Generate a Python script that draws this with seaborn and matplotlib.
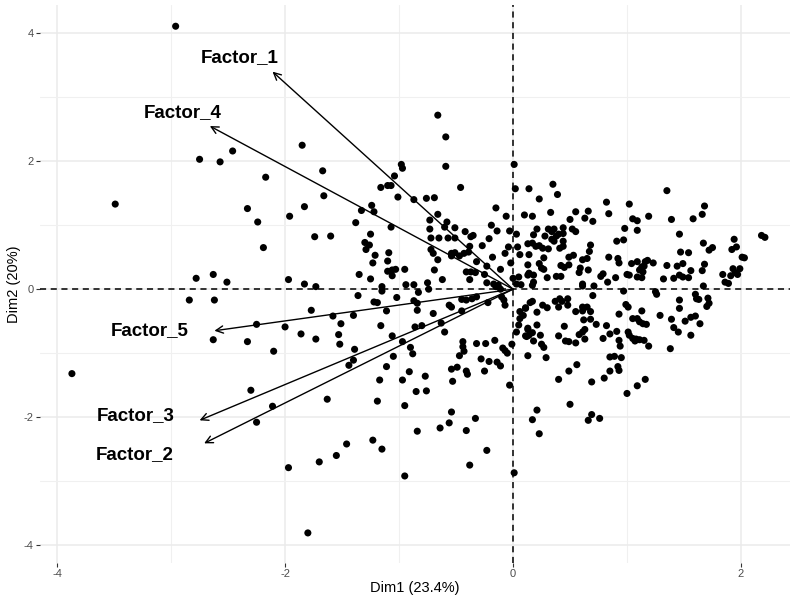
import pandas as pd
import matplotlib
matplotlib.use("Agg")
import matplotlib.pyplot as plt
import seaborn as sns

# individuals (Dim1, Dim2)
far_left = [(-2.96, 4.11), (-2.75, 2.03), (-2.57, 1.99), (-2.46, 2.16), (-2.17, 1.75),
             (-3.49, 1.33), (-2.33, 1.26), (-2.24, 1.05), (-1.96, 1.14), (-2.19, 0.65),
             (-2.78, 0.17), (-2.63, 0.23), (-2.51, 0.11), (-1.97, 0.15), (-2.84, -0.17),
             (-2.62, -0.17), (-2.25, -0.55), (-2.00, -0.59), (-2.63, -0.79), (-2.33, -0.82),
             (-2.10, -0.97), (-3.87, -1.32), (-2.30, -1.58), (-2.11, -1.83), (-2.25, -2.08),
             (-1.97, -2.79)]

left_top = [(-1.85, 2.25), (-1.67, 1.85), (-0.98, 1.95), (-0.97, 1.89), (-1.04, 1.77),
            (-1.16, 1.59), (-1.10, 1.62), (-1.07, 1.62), (-1.66, 1.46), (-1.01, 1.44),
            (-0.87, 1.40), (-1.83, 1.29), (-1.24, 1.31), (-1.33, 1.23), (-1.22, 1.21),
            (-1.38, 1.04), (-1.07, 0.97), (-1.74, 0.82), (-1.60, 0.83), (-1.25, 0.86),
            (-1.30, 0.73), (-1.26, 0.69), (-1.29, 0.62), (-1.21, 0.53), (-1.09, 0.57),
            (-1.23, 0.41), (-1.10, 0.44), (-1.10, 0.28), (-1.06, 0.30), (-1.03, 0.31),
            (-1.06, 0.21), (-0.95, 0.31), (-1.35, 0.23), (-1.25, 0.16), (-1.83, 0.08),
            (-1.73, 0.04), (-1.15, 0.04), (-0.94, 0.07), (-0.87, 0.07)]

left_bottom = [(-1.15, -0.03), (-1.36, -0.10), (-1.22, -0.20), (-1.19, -0.21), (-1.02, -0.13),
               (-1.77, -0.33), (-1.11, -0.34), (-1.58, -0.42), (-1.40, -0.41), (-1.51, -0.54),
               (-1.16, -0.57), (-1.86, -0.70), (-1.73, -0.78), (-1.53, -0.71), (-1.52, -0.86),
               (-1.06, -0.73), (-0.86, -0.59), (-0.97, -0.82), (-0.90, -0.91), (-0.88, -1.01),
               (-1.39, -0.94), (-1.40, -1.11), (-1.44, -1.19), (-1.05, -1.05), (-1.11, -1.21),
               (-0.91, -1.29), (-1.17, -1.42), (-0.97, -1.42), (-0.85, -1.60), (-1.63, -1.72),
               (-1.19, -1.75), (-0.95, -1.82), (-0.84, -2.22), (-1.23, -2.36), (-1.15, -2.50),
               (-1.46, -2.42), (-1.55, -2.60), (-1.70, -2.70), (-0.95, -2.92), (-1.80, -3.81)]

mid_top = [(-0.66, 2.72), (-0.59, 2.38), (-0.59, 1.92), (0.01, 1.95), (0.02, 1.57),
           (0.14, 1.57), (-0.46, 1.59), (-0.76, 1.42), (-0.69, 1.43), (-0.15, 1.27),
           (-0.06, 1.14), (0.10, 1.16), (-0.66, 1.17), (-0.73, 1.08), (-0.58, 1.05),
           (-0.60, 0.97), (-0.51, 0.96), (-0.73, 0.94), (-0.19, 1.00), (-0.14, 0.91),
           (-0.42, 0.90), (-0.03, 0.91), (-0.65, 0.80), (-0.72, 0.80), (-0.57, 0.80),
           (-0.51, 0.80), (-0.37, 0.82), (-0.35, 0.84), (-0.21, 0.79), (0.03, 0.86),
           (-0.38, 0.67), (-0.27, 0.68), (-0.04, 0.66), (0.04, 0.66), (-0.72, 0.62),
           (-0.70, 0.56), (-0.54, 0.56), (-0.51, 0.57), (-0.43, 0.56), (-0.39, 0.58),
           (-0.07, 0.56), (0.06, 0.54), (0.13, 0.71), (-0.54, 0.52), (-0.47, 0.52),
           (-0.66, 0.46), (-0.18, 0.50), (-0.32, 0.43), (-0.23, 0.36), (-0.02, 0.41),
           (0.13, 0.38), (-0.69, 0.30), (-0.41, 0.27), (-0.37, 0.27), (-0.33, 0.26),
           (-0.25, 0.23), (-0.11, 0.31), (0.14, 0.25), (-0.62, 0.15), (-0.38, 0.15),
           (-0.23, 0.10), (-0.17, 0.08), (0.00, 0.17), (0.05, 0.19), (-0.75, 0.10),
           (-0.13, 0.06), (0.03, 0.08), (0.07, 0.07)]

mid_bottom = [(-0.83, -0.05), (-0.87, -0.18), (-0.84, -0.22), (-0.84, -0.33), (-0.74, 0.00),
              (-0.70, -0.38), (-0.56, -0.25), (-0.54, -0.28), (-0.45, -0.16), (-0.41, -0.17),
              (-0.36, -0.15), (-0.32, -0.12), (-0.45, -0.34), (-0.22, -0.21), (-0.15, 0.04),
              (-0.11, 0.00), (-0.08, -0.17), (-0.07, -0.25), (-0.10, -0.12), (-0.80, -0.57),
              (-0.63, -0.53), (-0.60, -0.67), (-0.44, -0.82), (-0.44, -0.90), (-0.43, -0.97),
              (-0.47, -1.04), (-0.32, -0.85), (-0.24, -0.85), (-0.16, -0.80), (-0.09, -0.92),
              (-0.07, -0.96), (-0.05, -1.00), (-0.01, -0.86), (-0.28, -1.09), (-0.21, -1.13),
              (-0.14, -1.14), (-0.11, -1.20), (-0.54, -1.25), (-0.49, -1.22), (-0.41, -1.28),
              (-0.40, -1.33), (-0.25, -1.28), (-0.77, -1.36), (-0.53, -1.44), (-0.76, -1.59),
              (-0.03, -1.50), (-0.54, -1.92), (-0.56, -2.09), (-0.64, -2.17), (-0.33, -2.02),
              (-0.41, -2.21), (-0.23, -2.52), (-0.38, -2.75), (0.01, -2.87), (0.03, -0.67),
              (0.05, -0.56), (0.06, -0.46), (0.09, -0.41), (0.11, -0.30), (0.12, -0.74),
              (0.13, -0.61), (0.13, -1.04)]

right_top = [(0.35, 1.64), (0.39, 1.48), (0.23, 1.41), (0.82, 1.36), (1.02, 1.33),
             (0.17, 1.14), (0.33, 1.20), (0.55, 1.21), (0.66, 1.22), (0.84, 1.18),
             (0.50, 1.09), (0.63, 1.11), (0.70, 1.06), (1.05, 1.10), (1.09, 1.07),
             (0.52, 0.94), (0.55, 0.90), (0.98, 0.95), (1.09, 0.92), (0.21, 0.94),
             (0.31, 0.94), (0.34, 0.90), (0.36, 0.94), (0.40, 0.86), (0.38, 0.83),
             (0.44, 0.96), (0.44, 0.87), (0.18, 0.85), (0.28, 0.83), (0.17, 0.72),
             (0.34, 0.78), (0.36, 0.75), (0.44, 0.75), (0.44, 0.67), (0.41, 0.64),
             (0.68, 0.69), (0.91, 0.75), (0.97, 0.77), (0.20, 0.67), (0.23, 0.68),
             (0.26, 0.64), (0.31, 0.63), (0.14, 0.54), (0.27, 0.49), (0.49, 0.50),
             (0.53, 0.53), (0.67, 0.59), (0.61, 0.46), (0.65, 0.48), (0.84, 0.50),
             (0.92, 0.48), (0.93, 0.41), (1.04, 0.40), (1.09, 0.43), (0.23, 0.40),
             (0.25, 0.33), (0.27, 0.31), (0.42, 0.37), (0.45, 0.34), (0.49, 0.38),
             (0.59, 0.33), (0.66, 0.30), (0.13, 0.22), (0.18, 0.22), (0.30, 0.18),
             (0.38, 0.20), (0.42, 0.20), (0.58, 0.26), (0.77, 0.20), (0.79, 0.24),
             (0.83, 0.11), (0.90, 0.18), (1.00, 0.23), (1.02, 0.22), (1.09, 0.19),
             (0.18, 0.11), (0.17, 0.06), (0.61, 0.08), (0.61, 0.05), (0.71, 0.05)]

right_bottom = [(0.97, -0.03), (0.70, -0.10), (0.11, -0.29), (0.15, -0.21), (0.17, -0.19),
                (0.26, -0.25), (0.30, -0.29), (0.37, -0.19), (0.41, -0.15), (0.40, -0.28),
                (0.43, -0.19), (0.48, -0.15), (0.48, -0.25), (0.06, -0.35), (0.21, -0.36),
                (0.55, -0.35), (0.61, -0.28), (0.65, -0.28), (0.61, -0.34), (0.68, -0.35),
                (0.62, -0.48), (0.68, -0.47), (0.93, -0.39), (0.99, -0.24), (1.01, -0.28),
                (0.21, -0.56), (0.45, -0.58), (0.73, -0.55), (0.82, -0.57), (0.13, -0.63),
                (0.17, -0.68), (0.11, -0.73), (0.14, -0.72), (0.24, -0.72), (0.63, -0.63),
                (0.61, -0.67), (0.58, -0.71), (0.85, -0.70), (0.91, -0.66), (1.01, -0.67),
                (1.02, -0.72), (1.05, -0.77), (1.08, -0.78), (0.40, -0.73), (0.46, -0.81),
                (0.49, -0.82), (0.55, -0.84), (0.63, -0.78), (0.79, -0.77), (0.93, -0.80),
                (0.94, -0.89), (0.18, -0.81), (0.25, -0.86), (0.27, -0.91), (0.29, -1.07),
                (0.85, -1.06), (0.89, -1.05), (0.95, -1.07), (0.56, -1.18), (0.92, -1.21),
                (0.93, -1.27), (0.49, -1.28), (0.85, -1.28), (0.40, -1.41), (0.69, -1.45),
                (0.80, -1.39), (1.09, -1.51), (1.00, -1.63), (0.50, -1.80), (0.21, -1.89),
                (0.17, -2.04), (0.23, -2.26), (0.69, -1.96), (0.66, -2.05), (0.76, -2.02)]

far_right = [(1.35, 1.54), (1.68, 1.30), (1.66, 1.17), (1.19, 1.14), (1.39, 1.09),
             (1.58, 1.10), (1.46, 0.86), (2.18, 0.84), (2.21, 0.81), (1.67, 0.72),
             (1.94, 0.78), (1.47, 0.58), (1.54, 0.57), (1.72, 0.61), (1.75, 0.65),
             (1.92, 0.62), (1.96, 0.66), (2.01, 0.50), (2.03, 0.49), (1.16, 0.43),
             (1.18, 0.45), (1.23, 0.41), (1.13, 0.35), (1.15, 0.36), (1.11, 0.30),
             (1.14, 0.27), (1.35, 0.37), (1.44, 0.36), (1.49, 0.40), (1.68, 0.39),
             (1.93, 0.32), (1.99, 0.32), (1.13, 0.18), (1.46, 0.22), (1.49, 0.19),
             (1.56, 0.29), (1.66, 0.29), (1.32, 0.16), (1.41, 0.17), (1.54, 0.18),
             (1.84, 0.23), (1.91, 0.21), (1.95, 0.26), (1.97, 0.23), (1.86, 0.11),
             (1.89, 0.09), (1.67, 0.05), (1.25, -0.04), (1.26, -0.08), (1.60, -0.08),
             (1.61, -0.15), (1.63, -0.16), (1.71, -0.14), (1.72, -0.22), (1.70, -0.27),
             (1.46, -0.17), (1.46, -0.30), (1.13, -0.34), (1.29, -0.41), (1.05, -0.46),
             (1.09, -0.46), (1.11, -0.51), (1.14, -0.54), (1.17, -0.55), (1.39, -0.47),
             (1.51, -0.50), (1.56, -0.44), (1.60, -0.42), (1.64, -0.54), (1.41, -0.60),
             (1.45, -0.67), (1.56, -0.72), (1.07, -0.81), (1.11, -0.79), (1.15, -0.80),
             (1.19, -0.89), (1.38, -0.93), (1.16, -1.41)]

# variables (arrows)
factors = ["Factor_1", "Factor_4", "Factor_5", "Factor_3", "Factor_2"]
arrow_x = [-2.11, -2.66, -2.62, -2.75, -2.71]
arrow_y = [3.40, 2.55, -0.65, -2.05, -2.41]
label_x = [-2.40, -2.90, -3.19, -3.31, -3.32]
label_y = [3.62, 2.76, -0.64, -1.97, -2.58]


def main():
    pts = far_left + left_top + left_bottom + mid_top + mid_bottom + right_top + right_bottom + far_right
    df = pd.DataFrame(pts, columns=["Dim1", "Dim2"])

    sns.set_theme(style="white")
    plt.rcParams["font.family"] = ["Liberation Sans", "DejaVu Sans"]
    plt.rcParams["axes.unicode_minus"] = False

    fig = plt.figure(figsize=(8, 5.96), dpi=100)
    ax = fig.add_axes([0.05, 0.0554, 0.9375, 0.936])

    # theme_minimal-like grid
    ax.set_xticks([-4, -2, 0, 2])
    ax.set_yticks([-4, -2, 0, 2, 4])
    ax.set_xticks([-3, -1, 1], minor=True)
    ax.set_yticks([-3, -1, 1, 3], minor=True)
    ax.grid(True, which="major", color="#EBEBEB", lw=1.1)
    ax.grid(True, which="minor", color="#F0F0F0", lw=0.8)
    ax.set_axisbelow(True)
    for s in ax.spines.values():
        s.set_visible(False)

    ax.axhline(0, color="black", lw=1.1, ls=(0, (4, 3)), zorder=1)
    ax.axvline(0, color="black", lw=1.1, ls=(0, (4, 3)), zorder=1)

    sns.scatterplot(data=df, x="Dim1", y="Dim2", color="black", s=26,
                    edgecolor="none", ax=ax, zorder=3)

    for name, ax_, ay, lx, ly in zip(factors, arrow_x, arrow_y, label_x, label_y):
        ax.annotate("", xy=(ax_, ay), xytext=(0, 0),
                    arrowprops=dict(arrowstyle="->", color="black", lw=1.0,
                                    shrinkA=0, shrinkB=0, mutation_scale=13),
                    zorder=4)
        ax.text(lx, ly, name, ha="center", va="center", fontsize=13.5,
                fontweight="bold", color="black", zorder=5)

    ax.set_xlim(-4.15, 2.43)
    ax.set_ylim(-4.28, 4.44)
    ax.tick_params(axis="both", which="major", length=3, width=0.8, color="#333333",
                   labelsize=8, labelcolor="#4D4D4D", pad=1.5, bottom=True, left=True)
    ax.tick_params(axis="both", which="minor", length=0)
    ax.set_xlabel("Dim1 (23.4%)", fontsize=10.5, labelpad=1, color="black")
    ax.set_ylabel("Dim2 (20%)", fontsize=10.5, labelpad=2, color="black")

    fig.savefig("out.png", dpi=100)
    plt.close(fig)


if __name__ == "__main__":
    main()
